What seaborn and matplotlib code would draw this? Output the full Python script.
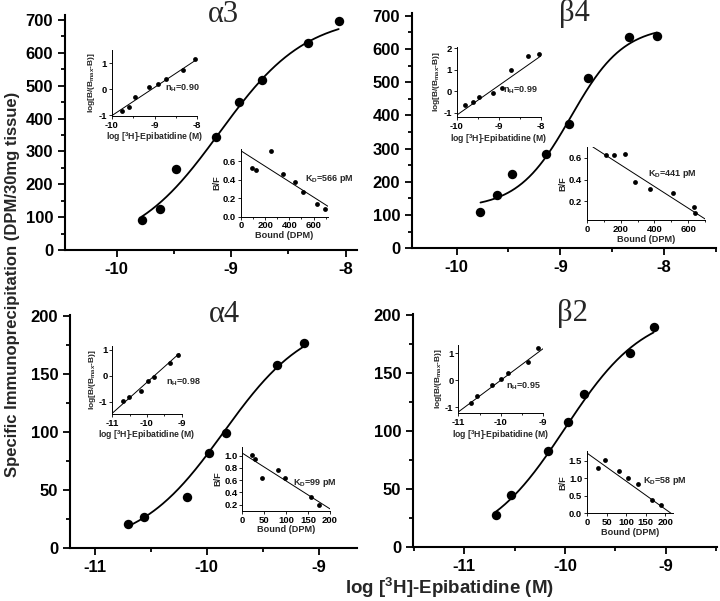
import numpy as np
import pandas as pd
import matplotlib
matplotlib.use("Agg")
import matplotlib.pyplot as plt
import seaborn as sns
from matplotlib.ticker import MultipleLocator, FixedLocator, FormatStrFormatter

# ---------------- main saturation data ----------------
a3_logc = [-9.78, -9.62, -9.48, -9.13, -8.93, -8.73, -8.33, -8.06]
a3_bound = [90, 124, 245, 345, 451, 516, 630, 698]
b4_logc = [-9.77, -9.61, -9.47, -9.14, -8.92, -8.73, -8.34, -8.07]
b4_bound = [110, 160, 225, 283, 373, 512, 637, 640]
a4_logc = [-10.70, -10.56, -10.18, -9.98, -9.83, -9.37, -9.13]
a4_bound = [21, 27, 44, 82, 99, 158, 177]
b2_logc = [-10.69, -10.54, -10.17, -9.97, -9.81, -9.35, -9.12]
b2_bound = [28, 45, 83, 108, 132, 167, 190]

# fitted sigmoid parameters: bottom, top, logEC50, slope
a3_fit = [0, 715, -9.10, 1.15]
b4_fit = [120, 670, -8.90, 1.70]
a4_fit = [0, 200, -9.85, 1.15]
b2_fit = [0, 205, -10.00, 1.10]

# ---------------- Hill plot insets ----------------
a3_hill_x = [-9.76, -9.60, -9.46, -9.13, -8.92, -8.73, -8.34, -8.05]
a3_hill_y = [-0.85, -0.69, -0.30, 0.07, 0.18, 0.37, 0.73, 1.14]
a3_hill_line = ([-10.0, -8.0], [-1.02, 1.15])
b4_hill_x = [-9.80, -9.62, -9.47, -9.13, -8.91, -8.71, -8.30, -8.03]
b4_hill_y = [-0.65, -0.47, -0.26, -0.08, 0.16, 1.00, 1.65, 1.71]
b4_hill_line = ([-10.0, -8.0], [-1.10, 1.63])
a4_hill_x = [-10.68, -10.52, -10.17, -9.97, -9.81, -9.34, -9.12]
a4_hill_y = [-0.97, -0.84, -0.58, -0.19, -0.04, 0.50, 0.80]
a4_hill_line = ([-11.0, -9.07], [-1.45, 0.86])
b2_hill_x = [-10.71, -10.57, -10.20, -10.00, -9.82, -9.36, -9.12]
b2_hill_y = [-0.84, -0.57, -0.18, 0.05, 0.26, 0.68, 1.20]
b2_hill_line = ([-11.0, -9.0], [-1.17, 1.17])

# ---------------- Scatchard insets ----------------
a3_sc_x = [90, 124, 245, 345, 451, 516, 630, 698]
a3_sc_y = [0.52, 0.50, 0.71, 0.46, 0.37, 0.27, 0.13, 0.08]
a3_sc_line = ([0, 720], [0.71, 0.11])
b4_sc_x = [110, 160, 225, 283, 373, 512, 637, 640]
b4_sc_y = [0.63, 0.63, 0.64, 0.38, 0.31, 0.28, 0.15, 0.09]
b4_sc_line = ([35, 700], [0.70, 0.04])
a4_sc_x = [21, 28, 45, 81, 98, 157, 175]
a4_sc_y = [1.01, 0.95, 0.64, 0.76, 0.63, 0.33, 0.20]
a4_sc_line = ([0, 200], [1.04, 0.13])
b2_sc_x = [27, 45, 81, 106, 130, 165, 189]
b2_sc_y = [1.30, 1.53, 1.21, 1.00, 0.85, 0.38, 0.25]
b2_sc_line = ([0, 215], [1.72, 0.0])

titles = ["\u03b13", "\u03b24", "\u03b14", "\u03b22"]
nh_labels = ["0.90", "0.99", "0.98", "0.95"]
kd_labels = ["566 pM", "441 pM", "99 pM", "58 pM"]

sns.set_style("ticks")
plt.rcParams.update({
    "font.family": ["Liberation Sans", "DejaVu Sans"],
    "font.weight": "bold",
    "axes.labelweight": "bold",
    "mathtext.fontset": "custom",
    "mathtext.rm": "Liberation Sans:bold",
    "mathtext.it": "Liberation Sans:bold",
    "mathtext.bf": "Liberation Sans:bold",
    "mathtext.sf": "Liberation Sans:bold",
    "mathtext.default": "rm",
    "axes.edgecolor": "black",
    "xtick.color": "black",
    "ytick.color": "black",
    "axes.facecolor": "white",
})

W, H = 720, 601
fig = plt.figure(figsize=(7.2, 6.01), dpi=100)
fig.patch.set_facecolor("white")


def rect(l, r, t, b):
    return [l / W, 1 - b / H, (r - l) / W, (b - t) / H]


def hill(x, p):
    b, t, m, n = p
    return b + (t - b) / (1 + 10 ** (n * (m - x)))


def style_axes(ax, lw, tl, tw, fs):
    for s in ["top", "right"]:
        ax.spines[s].set_visible(False)
    for s in ["left", "bottom"]:
        ax.spines[s].set_linewidth(lw)
    ax.tick_params(which="major", direction="out", length=tl, width=tw, labelsize=fs, pad=1.5 if fs < 9 else 3.5)
    ax.tick_params(which="minor", direction="out", length=tl * 0.6, width=tw)
    for lab in ax.get_xticklabels() + ax.get_yticklabels():
        lab.set_fontweight("bold")


def main_panel(r, logc, bound, fit, xlim, ylim, xticks, yticks, ymin_step):
    ax = fig.add_axes(rect(*r))
    df = pd.DataFrame({"logc": logc, "bound": bound})
    xs = np.linspace(min(logc), max(logc), 200)
    cdf = pd.DataFrame({"logc": xs, "bound": hill(xs, fit)})
    sns.lineplot(data=cdf, x="logc", y="bound", ax=ax, color="black", lw=1.3)
    sns.scatterplot(data=df, x="logc", y="bound", ax=ax, color="black", s=46,
                    edgecolor="black", linewidth=0, zorder=3)
    ax.set_xlim(*xlim)
    ax.set_ylim(*ylim)
    ax.xaxis.set_major_locator(FixedLocator(xticks))
    ax.xaxis.set_minor_locator(MultipleLocator(0.5))
    ax.yaxis.set_major_locator(FixedLocator(yticks))
    ax.yaxis.set_minor_locator(MultipleLocator(ymin_step))
    ax.set_xticklabels([f"{int(t)}" for t in xticks])
    ax.set_xlabel("")
    ax.set_ylabel("")
    style_axes(ax, 1.5, 5, 1.3, 12)
    return ax


def hill_inset(r, hx, hy, line, xlim, ylim, xticks, yticks, nh, nhpos):
    ax = fig.add_axes(rect(*r))
    sns.lineplot(x=line[0], y=line[1], ax=ax, color="black", lw=0.7)
    sns.scatterplot(x=hx, y=hy, ax=ax, color="black", s=12, linewidth=0, zorder=3, clip_on=False)
    ax.set_xlim(*xlim)
    ax.set_ylim(*ylim)
    ax.xaxis.set_major_locator(FixedLocator(xticks))
    ax.xaxis.set_minor_locator(MultipleLocator(0.5))
    ax.yaxis.set_major_locator(FixedLocator(yticks))
    ax.set_xticklabels([f"{int(t)}" for t in xticks])
    ax.set_yticklabels([f"{int(t)}" for t in yticks])
    ax.set_xlabel(r"log [$^{3}$H]-Epibatidine (M)", fontsize=6.2, labelpad=0.5)
    ax.set_ylabel(r"log[B/(B$_{max}$-B)]", fontsize=6.0, labelpad=1)
    style_axes(ax, 0.7, 2, 0.6, 6.8)
    ax.text(nhpos[0], nhpos[1], r"n$_{H}$=" + nh, transform=ax.transAxes,
            ha="right", va="center", fontsize=6.5, fontweight="bold")
    return ax


def sc_inset(r, sx, sy, line, xlim, ylim, xticks, yticks, yfmt, kd, kdpos, xminor=None):
    ax = fig.add_axes(rect(*r))
    sns.lineplot(x=line[0], y=line[1], ax=ax, color="black", lw=0.7)
    sns.scatterplot(x=sx, y=sy, ax=ax, color="black", s=12, linewidth=0, zorder=3, clip_on=False)
    ax.set_xlim(*xlim)
    ax.set_ylim(*ylim)
    ax.xaxis.set_major_locator(FixedLocator(xticks))
    if xminor:
        ax.xaxis.set_minor_locator(MultipleLocator(xminor))
    ax.yaxis.set_major_locator(FixedLocator(yticks))
    ax.yaxis.set_major_formatter(FormatStrFormatter(yfmt))
    ax.set_xlabel("Bound (DPM)", fontsize=6.6, labelpad=0.5)
    ax.set_ylabel("B/F", fontsize=6.6, labelpad=1)
    style_axes(ax, 0.7, 2, 0.6, 6.8)
    ax.text(kdpos[0], kdpos[1], r"K$_{D}$=" + kd, transform=ax.transAxes,
            ha="left", va="center", fontsize=6.5, fontweight="bold")
    return ax


# main panels
main_panel((65, 357, 15, 250), a3_logc, a3_bound, a3_fit, (-10.45, -7.9), (0, 715),
           [-10, -9, -8], list(range(0, 701, 100)), 50)
main_panel((412, 716, 13, 248.3), b4_logc, b4_bound, b4_fit, (-10.43, -7.5), (0, 708),
           [-10, -9, -8], list(range(0, 701, 100)), 50)
main_panel((70, 357, 315, 548.3), a4_logc, a4_bound, a4_fit, (-11.22, -8.66), (0, 201),
           [-11, -10, -9], list(range(0, 201, 50)), 25)
main_panel((413, 717, 314, 547.3), b2_logc, b2_bound, b2_fit, (-11.51, -8.49), (0, 201),
           [-11, -10, -9], list(range(0, 201, 50)), 25)

# Hill insets
hill_inset((111.7, 197.3, 50, 116), a3_hill_x, a3_hill_y, a3_hill_line, (-10, -8), (-1.03, 1.5),
           [-10, -9, -8], [-1, 0, 1], nh_labels[0], (1.03, 0.42))
hill_inset((456.7, 540.7, 47, 117.3), b4_hill_x, b4_hill_y, b4_hill_line, (-10, -8), (-1.2, 2.05),
           [-10, -9, -8], [-1, 0, 1, 2], nh_labels[1], (0.97, 0.38))
hill_inset((112.3, 181.7, 346, 414), a4_hill_x, a4_hill_y, a4_hill_line, (-11, -9), (-1.48, 1.15),
           [-11, -10, -9], [-1, 0, 1], nh_labels[2], (1.27, 0.47))
hill_inset((458.3, 543.3, 345, 413.3), b2_hill_x, b2_hill_y, b2_hill_line, (-11, -9), (-1.22, 1.3),
           [-11, -10, -9], [-1, 0, 1], nh_labels[3], (0.97, 0.39))

# Scatchard insets
sc_inset((241, 328, 149, 216.5), a3_sc_x, a3_sc_y, a3_sc_line, (0, 720), (0, 0.73),
         [0, 200, 400, 600], [0.0, 0.2, 0.4, 0.6], "%.1f", kd_labels[0], (0.74, 0.56), 100)
sc_inset((587, 705, 147, 220), b4_sc_x, b4_sc_y, b4_sc_line, (0, 700), (0.03, 0.70),
         [0, 200, 400, 600], [0.2, 0.4, 0.6], "%.1f", kd_labels[1], (0.52, 0.63), 100)
sc_inset((242.3, 330, 447, 510.7), a4_sc_x, a4_sc_y, a4_sc_line, (0, 200), (0.1, 1.14),
         [0, 50, 100, 150, 200], [0.2, 0.4, 0.6, 0.8, 1.0], "%.1f", kd_labels[2], (0.58, 0.44))
sc_inset((587, 673, 451, 513.3), b2_sc_x, b2_sc_y, b2_sc_line, (0, 220), (0, 1.78),
         [0, 50, 100, 150, 200], [0.0, 0.5, 1.0, 1.5], "%.1f", kd_labels[3], (0.655, 0.52))

# titles
for t, (px, py) in zip(titles, [(223, 14), (574, 14), (224, 315), (572, 314)]):
    fig.text(px / W, 1 - py / H, t, ha="center", va="center", fontsize=22,
             fontweight="normal", family=["Liberation Serif", "DejaVu Serif"])

fig.text(13 / W, 1 - 284 / H, "Specific Immunoprecipitation (DPM/30mg tissue)", rotation=90,
         ha="center", va="center", fontsize=12, fontweight="bold")
fig.text(449 / W, 1 - 588 / H, r"log [$^{3}$H]-Epibatidine (M)", ha="center", va="center",
         fontsize=13.5, fontweight="bold")

fig.savefig("out.png", dpi=100, facecolor="white")
